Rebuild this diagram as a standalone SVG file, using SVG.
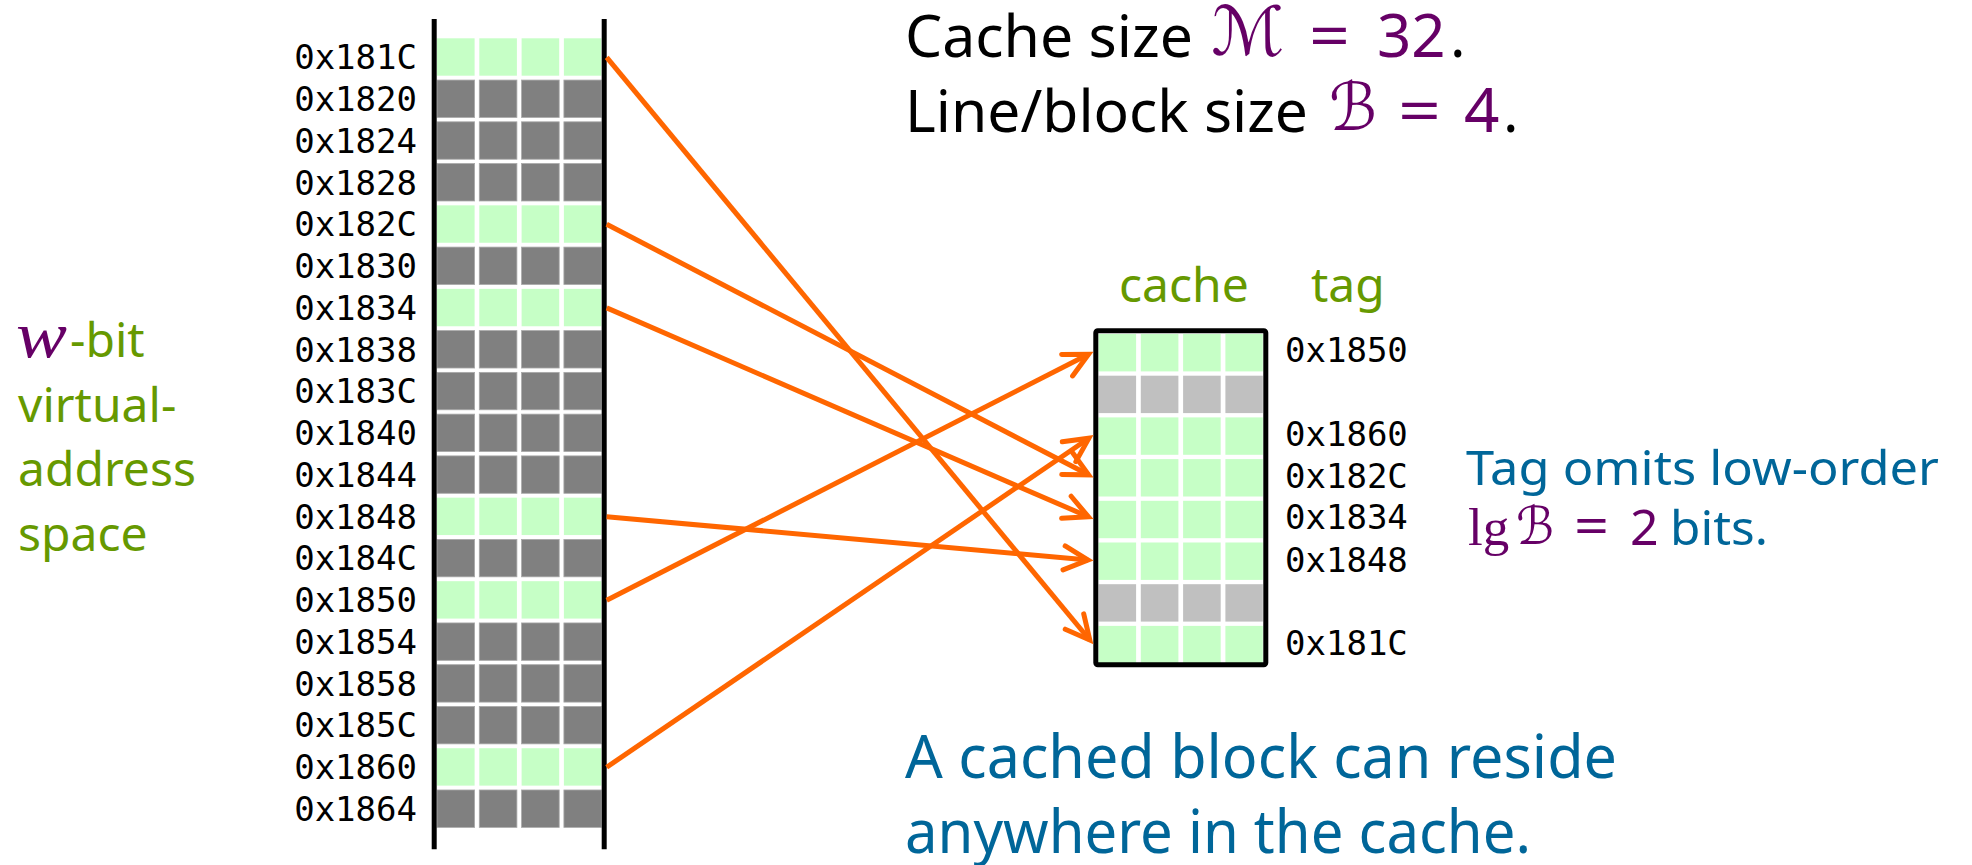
<svg xmlns="http://www.w3.org/2000/svg" xmlns:xlink="http://www.w3.org/1999/xlink" width="1972" height="865" viewBox="0 0 1972 865">
<style>
.mono{font-family:"DejaVu Sans Mono","Liberation Mono",monospace;font-size:34px;fill:#000}
.sans{font-family:"Noto Sans","Open Sans",sans-serif}
.serif{font-family:"Liberation Serif","DejaVu Serif",serif}
.script{font-family:"DejaVu Serif","DejaVu Sans",serif;font-style:italic}
.green{fill:#669900}
.blue{fill:#006699}
.purple{fill:#660066}
.blk{fill:#000}
.arrow{stroke:#FF6600;stroke-width:5;fill:none;marker-end:url(#head)}
.bar{stroke:#000;stroke-width:5}
</style>
<defs>
<marker id="head" markerUnits="userSpaceOnUse" markerWidth="40" markerHeight="40" viewBox="-30 -20 40 40" refX="0" refY="0" orient="auto" overflow="visible">
<path d="M-24,-12 L0,0 L-24,12" fill="none" stroke="#FF6600" stroke-width="5" stroke-linejoin="miter" stroke-linecap="round"/>
</marker>
<g id="rowG">
<rect x="0" y="0" width="37.6" height="37.4" fill="#C6FFC6"/>
<rect x="42.3" y="0" width="37.6" height="37.4" fill="#C6FFC6"/>
<rect x="84.6" y="0" width="37.6" height="37.4" fill="#C6FFC6"/>
<rect x="126.9" y="0" width="37.4" height="37.4" fill="#C6FFC6"/>
</g>
<g id="rowD">
<rect x="0" y="0" width="37.6" height="37.4" fill="#808080" stroke="#A8A8A8" stroke-width="0.8"/>
<rect x="42.3" y="0" width="37.6" height="37.4" fill="#808080" stroke="#A8A8A8" stroke-width="0.8"/>
<rect x="84.6" y="0" width="37.6" height="37.4" fill="#808080" stroke="#A8A8A8" stroke-width="0.8"/>
<rect x="126.9" y="0" width="37.4" height="37.4" fill="#808080" stroke="#A8A8A8" stroke-width="0.8"/>
</g>
<g id="rowL">
<rect x="0" y="0" width="37.6" height="37.4" fill="#C0C0C0"/>
<rect x="42.3" y="0" width="37.6" height="37.4" fill="#C0C0C0"/>
<rect x="84.6" y="0" width="37.6" height="37.4" fill="#C0C0C0"/>
<rect x="126.9" y="0" width="37.4" height="37.4" fill="#C0C0C0"/>
</g>
</defs>
<rect x="0" y="0" width="1972" height="865" fill="#fff"/>

<g id="memory">
<use xlink:href="#rowG" x="437" y="38.3"/>
<use xlink:href="#rowD" x="437" y="80.06"/>
<use xlink:href="#rowD" x="437" y="121.82"/>
<use xlink:href="#rowD" x="437" y="163.58"/>
<use xlink:href="#rowG" x="437" y="205.34"/>
<use xlink:href="#rowD" x="437" y="247.1"/>
<use xlink:href="#rowG" x="437" y="288.86"/>
<use xlink:href="#rowD" x="437" y="330.62"/>
<use xlink:href="#rowD" x="437" y="372.38"/>
<use xlink:href="#rowD" x="437" y="414.14"/>
<use xlink:href="#rowD" x="437" y="455.9"/>
<use xlink:href="#rowG" x="437" y="497.66"/>
<use xlink:href="#rowD" x="437" y="539.42"/>
<use xlink:href="#rowG" x="437" y="581.18"/>
<use xlink:href="#rowD" x="437" y="622.94"/>
<use xlink:href="#rowD" x="437" y="664.7"/>
<use xlink:href="#rowD" x="437" y="706.46"/>
<use xlink:href="#rowG" x="437" y="748.22"/>
<use xlink:href="#rowD" x="437" y="789.98"/>
<line class="bar" x1="434.2" y1="19" x2="434.2" y2="849.3"/>
<line class="bar" x1="604.2" y1="19" x2="604.2" y2="849.3"/>
<g class="mono" text-anchor="end">
<text x="417" y="69.3">0x181C</text>
<text x="417" y="111.06">0x1820</text>
<text x="417" y="152.82">0x1824</text>
<text x="417" y="194.58">0x1828</text>
<text x="417" y="236.34">0x182C</text>
<text x="417" y="278.1">0x1830</text>
<text x="417" y="319.86">0x1834</text>
<text x="417" y="361.62">0x1838</text>
<text x="417" y="403.38">0x183C</text>
<text x="417" y="445.14">0x1840</text>
<text x="417" y="486.9">0x1844</text>
<text x="417" y="528.66">0x1848</text>
<text x="417" y="570.42">0x184C</text>
<text x="417" y="612.18">0x1850</text>
<text x="417" y="653.94">0x1854</text>
<text x="417" y="695.7">0x1858</text>
<text x="417" y="737.46">0x185C</text>
<text x="417" y="779.22">0x1860</text>
<text x="417" y="820.98">0x1864</text>
</g>
</g>

<g id="address-space-label">
<text x="16" y="357" class="serif purple" font-style="italic" font-size="66" textLength="51" lengthAdjust="spacingAndGlyphs">w</text>
<text x="70" y="357" class="sans green" font-size="48">-bit</text>
<text x="18" y="421.5" class="sans green" font-size="48">virtual-</text>
<text x="18" y="486" class="sans green" font-size="48">address</text>
<text x="18" y="550.5" class="sans green" font-size="48">space</text>
</g>

<g id="cache">
<use xlink:href="#rowG" x="1098.5" y="334"/>
<use xlink:href="#rowL" x="1098.5" y="375.7"/>
<use xlink:href="#rowG" x="1098.5" y="417.4"/>
<use xlink:href="#rowG" x="1098.5" y="459.1"/>
<use xlink:href="#rowG" x="1098.5" y="500.8"/>
<use xlink:href="#rowG" x="1098.5" y="542.5"/>
<use xlink:href="#rowL" x="1098.5" y="584.2"/>
<use xlink:href="#rowG" x="1098.5" y="625.9"/>
<rect x="1095.8" y="330.8" width="170" height="334" rx="2" fill="none" stroke="#000" stroke-width="5"/>
<text x="1119" y="301.7" class="sans green" font-size="48">cache</text>
<text x="1311" y="301.7" class="sans green" font-size="48">tag</text>
<g class="mono">
<text x="1285" y="361.7">0x1850</text>
<text x="1285" y="445.5">0x1860</text>
<text x="1285" y="487.7">0x182C</text>
<text x="1285" y="529">0x1834</text>
<text x="1285" y="571.5">0x1848</text>
<text x="1285" y="655">0x181C</text>
</g>
</g>

<g id="connectors">
<line class="arrow" x1="606.7" y1="57.3" x2="1089.8" y2="640"/>
<line class="arrow" x1="606.7" y1="224.3" x2="1088.6" y2="474.8"/>
<line class="arrow" x1="606.7" y1="307.9" x2="1088.4" y2="516.8"/>
<line class="arrow" x1="606.7" y1="516.7" x2="1088" y2="560.1"/>
<line class="arrow" x1="606.7" y1="600.2" x2="1088.5" y2="354.3"/>
<line class="arrow" x1="606.7" y1="767.2" x2="1088.9" y2="438.2"/>
</g>

<g id="header">
<text x="905" y="56.7" class="sans blk" font-size="58" textLength="288" lengthAdjust="spacingAndGlyphs">Cache size</text>
<text x="1211" y="55" class="script purple" font-size="68" textLength="73" lengthAdjust="spacingAndGlyphs">ℳ</text>
<text x="1309" y="56.7" class="sans purple" font-size="60" textLength="41" lengthAdjust="spacingAndGlyphs">=</text>
<text x="1377" y="56.7" class="sans purple" font-size="60">32</text>
<text x="1450" y="56.7" class="sans blk" font-size="58">.</text>
<text x="905" y="131.7" class="sans blk" font-size="58" textLength="403" lengthAdjust="spacingAndGlyphs">Line/block size</text>
<text x="1329" y="130" class="script purple" font-size="66" textLength="48" lengthAdjust="spacingAndGlyphs">ℬ</text>
<text x="1398" y="131.7" class="sans purple" font-size="60" textLength="43" lengthAdjust="spacingAndGlyphs">=</text>
<text x="1464" y="131.7" class="sans purple" font-size="62">4</text>
<text x="1503" y="131.7" class="sans blk" font-size="58">.</text>
</g>

<g id="tag-note">
<text x="1466" y="485" class="sans blue" font-size="48" textLength="473" lengthAdjust="spacingAndGlyphs">Tag omits low-order</text>
<text x="1468" y="545" class="serif purple" font-size="53">lg</text>
<text x="1516" y="544" class="script purple" font-size="52" textLength="38" lengthAdjust="spacingAndGlyphs">ℬ</text>
<text x="1574" y="545" class="sans purple" font-size="52" textLength="35" lengthAdjust="spacingAndGlyphs">=</text>
<text x="1630" y="545" class="sans purple" font-size="50">2</text>
<text x="1670" y="545" class="sans blue" font-size="48" textLength="98" lengthAdjust="spacingAndGlyphs">bits.</text>
</g>

<g id="footer">
<text x="905" y="778.3" class="sans blue" font-size="61" textLength="712" lengthAdjust="spacingAndGlyphs">A cached block can reside</text>
<text x="905" y="853.3" class="sans blue" font-size="61" textLength="626" lengthAdjust="spacingAndGlyphs">anywhere in the cache.</text>
</g>
</svg>
